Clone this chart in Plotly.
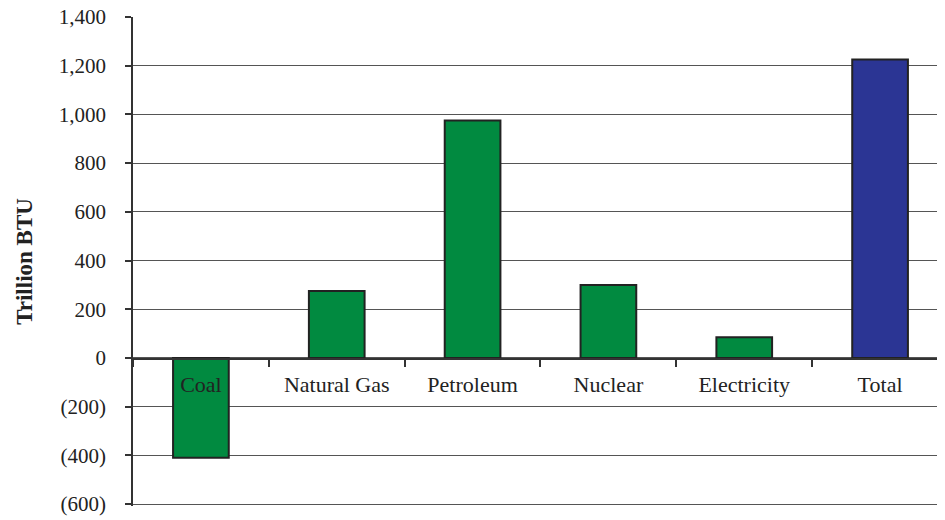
import plotly.graph_objects as go

categories = ["Coal", "Natural Gas", "Petroleum", "Nuclear", "Electricity", "Total"]
values = [-410, 275, 975, 300, 85, 1225]
bar_colors = ["#018A40", "#018A40", "#018A40", "#018A40", "#018A40", "#2B3594"]
y_tick_vals = [-600, -400, -200, 0, 200, 400, 600, 800, 1000, 1200, 1400]
y_tick_text = ["(600)", "(400)", "(200)", "0", "200", "400", "600", "800", "1,000", "1,200", "1,400"]

SERIF = "Liberation Serif, Times New Roman, serif"

fig = go.Figure()
fig.add_trace(go.Bar(
    x=categories,
    y=values,
    width=0.41,
    marker=dict(color=bar_colors, line=dict(color="#222222", width=2)),
    showlegend=False,
    hoverinfo="x+y",
))

# page body has an 8px margin, so the figure is offset by (8, 8) in the window
fig.update_layout(
    width=937,
    height=512,
    margin=dict(l=125, r=0, t=9, b=14, autoexpand=False),
    paper_bgcolor="white",
    plot_bgcolor="white",
    font=dict(family=SERIF, color="#222222", size=21),
    xaxis=dict(
        range=[-0.5, 5.478],
        anchor="free",
        position=0.3,
        automargin=False,
        showline=True,
        linecolor="#333333",
        linewidth=1.5,
        ticks="outside",
        tickson="boundaries",
        ticklen=7,
        tickcolor="#333333",
        tickwidth=1.5,
        ticklabelstandoff=6,
        showgrid=False,
        tickfont=dict(family=SERIF, size=22, color="#222222"),
        layer="above traces",
    ),
    yaxis=dict(
        range=[-608, 1400],
        automargin=False,
        tickvals=y_tick_vals,
        ticktext=y_tick_text,
        ticklabeloverflow="allow",
        showline=True,
        linecolor="#333333",
        linewidth=1.5,
        ticks="outside",
        ticklen=6,
        tickcolor="#333333",
        tickwidth=1.5,
        ticklabelstandoff=15,
        showgrid=True,
        gridcolor="#555555",
        gridwidth=1,
        zeroline=False,
        tickfont=dict(family=SERIF, size=21, color="#222222"),
        title=dict(text="<b>Trillion BTU</b>", font=dict(family=SERIF, size=23, color="#222222"), standoff=20),
    ),
)

fig.write_html("out.html")
